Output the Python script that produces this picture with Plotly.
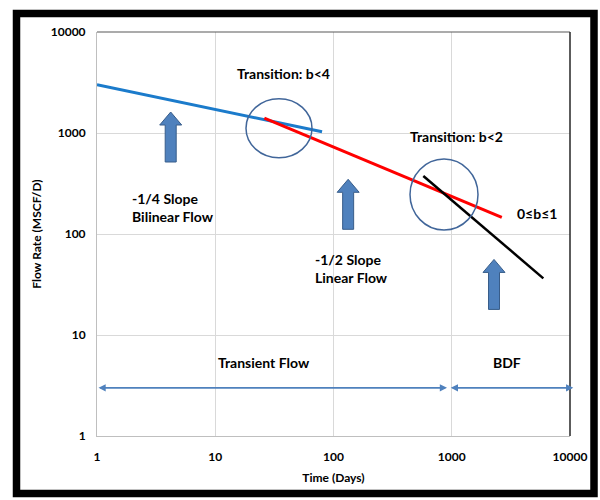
import numpy as np
import plotly.graph_objects as go

# ---- data ----
bilinear_t = [1, 80]
bilinear_q = [3000, 1030]
linear_t = [26, 2650]
linear_q = [1400, 146]
bdf_t = [575, 5950]
bdf_q = [375, 36.4]

x_ticks = [1, 10, 100, 1000, 10000]
y_ticks = [1, 10, 100, 1000, 10000]
tick_text_x = ["1", "10", "100", "1000", "10000"]
tick_text_y = ["1", "10", "100", "1000", "10000"]

# regime markers (data coordinates)
circle_centers = [(34.6, 1114), (860, 246)]
circle_sizes = [(66, 59), (68, 71)]
up_arrow_tips = [(4.2, 1614), (133, 348), (2277, 56)]
transient_range = [1, 912]
bdf_range = [953, 10660]
regime_y = 3

labels = [
    ("Transition: b<4", 38, 3925, "center"),
    ("-1/4 Slope<br>Bilinear Flow", 1.9, 185, "left"),
    ("-1/2 Slope<br>Linear Flow", 67, 46, "left"),
    ("Transition: b<2", 1087, 918, "center"),
    ("0≤b≤1", 3427, 158, "left"),
    ("Transient Flow", 25.8, 5.4, "center"),
    ("BDF", 2911, 5.4, "center"),
]

FONT = "Lato"
X_RANGE = [0, 4]
Y_RANGE = [0, 4]
PLOT_W, PLOT_H = 473, 404

fig = go.Figure()
fig.add_trace(go.Scatter(x=bilinear_t, y=bilinear_q, mode="lines",
                         line=dict(color="#1B7BCB", width=3), showlegend=False))
fig.add_trace(go.Scatter(x=linear_t, y=linear_q, mode="lines",
                         line=dict(color="#FF0000", width=3), showlegend=False))
fig.add_trace(go.Scatter(x=bdf_t, y=bdf_q, mode="lines",
                         line=dict(color="#000000", width=2.5), showlegend=False))


def to_paper_x(v):
    return (np.log10(v) - X_RANGE[0]) / (X_RANGE[1] - X_RANGE[0])


def to_paper_y(v):
    return (np.log10(v) - Y_RANGE[0]) / (Y_RANGE[1] - Y_RANGE[0])


shapes = []
for (cx, cy), (w, h) in zip(circle_centers, circle_sizes):
    px, py = to_paper_x(cx), to_paper_y(cy)
    shapes.append(dict(type="circle", xref="paper", yref="paper",
                       x0=px - w / 2 / PLOT_W, x1=px + w / 2 / PLOT_W,
                       y0=py - h / 2 / PLOT_H, y1=py + h / 2 / PLOT_H,
                       line=dict(color="#41669A", width=1.5), fillcolor="rgba(0,0,0,0)"))

arrow_path = "M 0 0 L 11 -13 L 5.5 -13 L 5.5 -50 L -5.5 -50 L -5.5 -13 L -11 -13 Z"
for tx, ty in up_arrow_tips:
    shapes.append(dict(type="path", xref="x", yref="y", xsizemode="pixel", ysizemode="pixel",
                       xanchor=tx, yanchor=ty, path=arrow_path,
                       fillcolor="#4F81BD", line=dict(color="#385D8A", width=1)))

# plot-area top and right borders
shapes.append(dict(type="line", xref="paper", yref="paper", x0=0, x1=1, y0=1, y1=1,
                   line=dict(color="#595959", width=1.2)))
shapes.append(dict(type="line", xref="paper", yref="paper", x0=1, x1=1, y0=0, y1=1,
                   line=dict(color="#262626", width=1.5)))
# outer black frame
shapes.append(dict(type="rect", xref="paper", yref="paper",
                   x0=(16.5 - 97) / PLOT_W, x1=(594 - 97) / PLOT_W,
                   y0=(436 - 493.5) / PLOT_H, y1=(436 - 13.5) / PLOT_H,
                   line=dict(color="black", width=7.5), fillcolor="rgba(0,0,0,0)"))

annotations = []
for text, x, y, anchor in labels:
    annotations.append(dict(x=np.log10(x), y=np.log10(y), xref="x", yref="y", text=text,
                            showarrow=False, xanchor=anchor, align=anchor,
                            font=dict(family=FONT, size=14, color="black", weight="bold")))

for rng in (transient_range, bdf_range):
    annotations.append(dict(x=np.log10(rng[1]), y=np.log10(regime_y),
                            ax=np.log10(rng[0]), ay=np.log10(regime_y),
                            xref="x", yref="y", axref="x", ayref="y", text="",
                            showarrow=True, arrowside="end+start", arrowhead=2,
                            arrowsize=0.8, arrowwidth=1.8, arrowcolor="#4F81BD"))

fig.update_layout(
    width=600, height=500,
    margin=dict(l=97, r=30, t=32, b=64),
    paper_bgcolor="white", plot_bgcolor="white",
    font=dict(family=FONT, size=12, color="black"),
    shapes=shapes, annotations=annotations,
    showlegend=False,
)
fig.update_xaxes(type="log", range=X_RANGE, tickvals=x_ticks, ticktext=tick_text_x,
                 showgrid=True, gridcolor="#D9D9D9", gridwidth=1, zeroline=False,
                 showline=True, linecolor="#BFBFBF", linewidth=1,
                 ticks="outside", ticklen=10, tickcolor="rgba(0,0,0,0)",
                 tickfont=dict(family=FONT, size=12, weight="bold"),
                 title=dict(text="Time (Days)", font=dict(family=FONT, size=12, weight="bold"), standoff=10))
fig.update_yaxes(type="log", range=Y_RANGE, tickvals=y_ticks, ticktext=tick_text_y,
                 showgrid=True, gridcolor="#D9D9D9", gridwidth=1, zeroline=False,
                 showline=True, linecolor="#BFBFBF", linewidth=1,
                 ticks="outside", ticklen=8, tickcolor="rgba(0,0,0,0)",
                 tickfont=dict(family=FONT, size=12, weight="bold"),
                 title=dict(text="Flow Rate (MSCF/D)", font=dict(family=FONT, size=12, weight="bold"), standoff=6))

fig.write_html("out.html", config={"displayModeBar": False},
               post_script="document.body.style.margin='0';")
